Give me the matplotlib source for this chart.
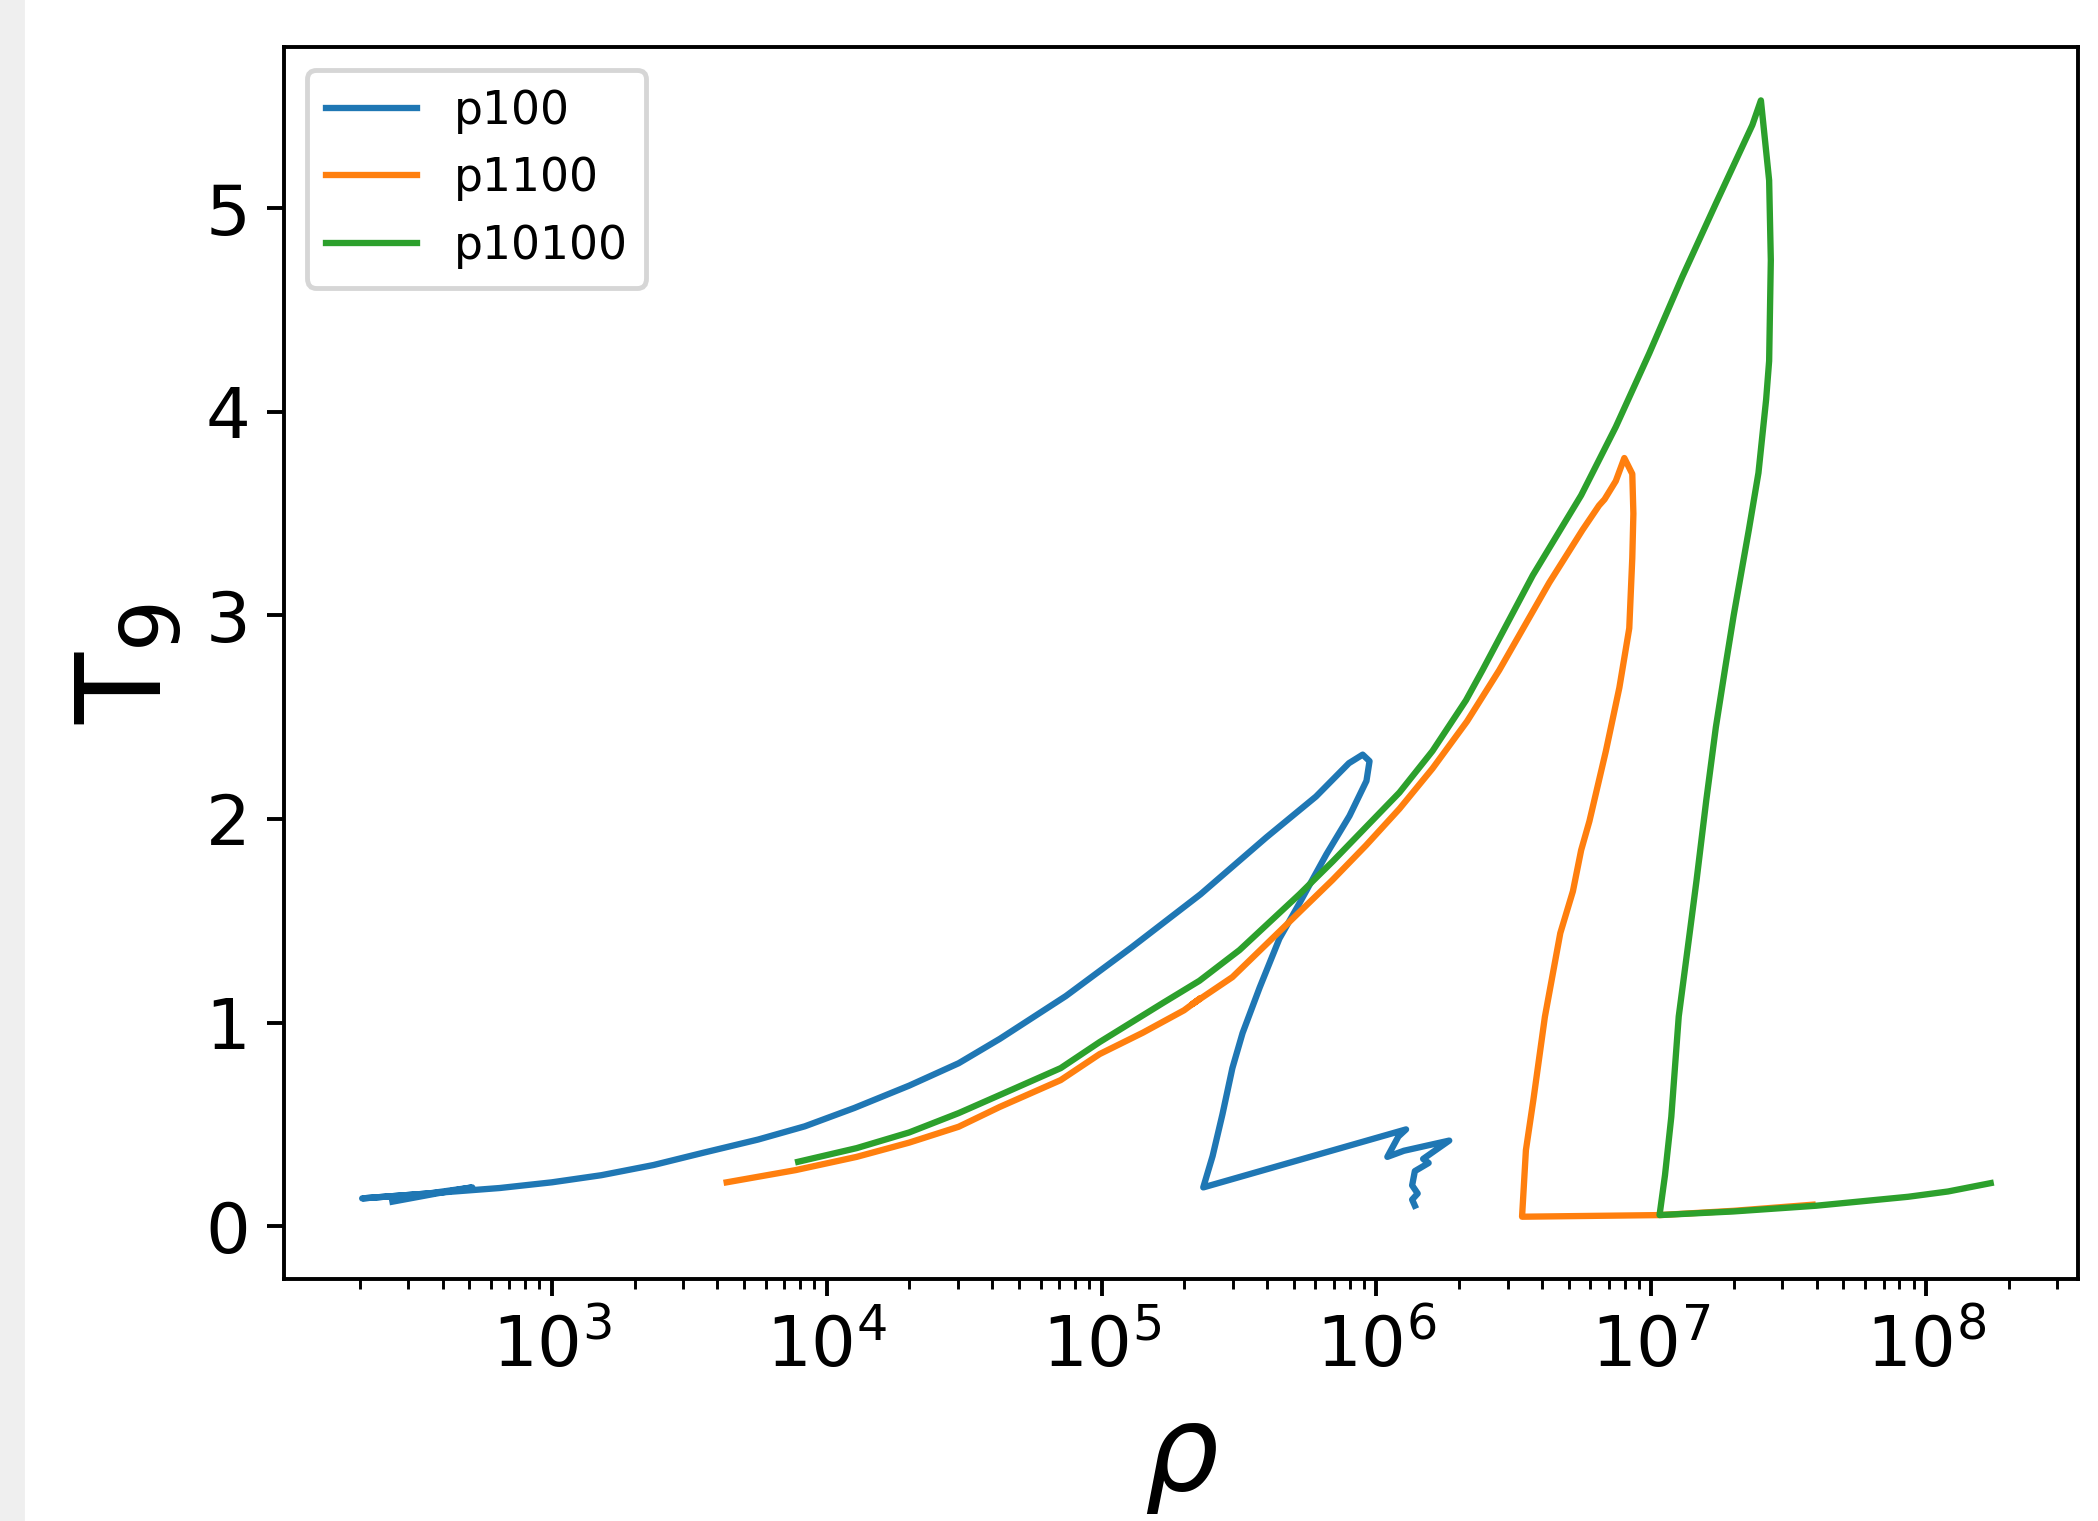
import matplotlib
matplotlib.use('Agg')
import matplotlib.pyplot as plt
from matplotlib.patches import Rectangle


# p100 trajectory (density, T9)
rho_p100 = [263, 398, 513, 355, 204, 316, 646, 1.0e3, 1.514e3, 2.344e3, 3.548e3,
            5.623e3, 8.318e3, 1.259e4, 1.995e4, 3.020e4, 4.266e4, 7.413e4, 1.288e5,
            2.291e5, 3.981e5, 6.026e5, 7.943e5, 8.913e5, 9.44e5, 9.20e5, 7.98e5,
            6.58e5, 5.248e5, 4.436e5, 3.758e5, 3.258e5, 2.992e5, 2.754e5, 2.535e5,
            2.344e5, 1.282e6, 1.202e6, 1.096e6, 1.259e6, 1.841e6, 1.479e6, 1.549e6,
            1.380e6, 1.349e6, 1.413e6, 1.349e6, 1.380e6]
t9_p100 = [0.12, 0.165, 0.19, 0.16, 0.136, 0.155, 0.187, 0.215, 0.25, 0.30, 0.36,
           0.425, 0.49, 0.58, 0.69, 0.80, 0.92, 1.13, 1.37,
           1.63, 1.91, 2.11, 2.274, 2.316, 2.284, 2.187, 2.015,
           1.827, 1.586, 1.412, 1.171, 0.948, 0.776, 0.55, 0.344,
           0.19, 0.475, 0.44, 0.34, 0.37, 0.42, 0.33, 0.31,
           0.27, 0.20, 0.16, 0.13, 0.10]

# p1100 trajectory
rho_p1100 = [4.325e3, 7.709e3, 1.285e4, 1.995e4, 3.020e4, 4.256e4, 7.096e4, 9.840e4,
             1.413e5, 1.995e5, 2.291e5, 2.138e5, 2.992e5, 4.571e5, 6.918e5, 9.162e5,
             1.213e6, 1.600e6, 2.138e6, 2.799e6, 4.256e6, 5.623e6, 6.457e6, 6.761e6,
             7.430e6, 7.980e6, 8.531e6, 8.610e6, 8.531e6, 8.318e6, 7.656e6, 6.839e6,
             5.957e6, 5.559e6, 5.188e6, 4.667e6, 4.102e6, 3.724e6, 3.499e6, 3.388e6,
             1.072e7, 1.995e7, 3.864e7]
t9_p1100 = [0.215, 0.275, 0.34, 0.41, 0.488, 0.585, 0.717, 0.845,
            0.95, 1.06, 1.12, 1.09, 1.223, 1.464, 1.70, 1.87,
            2.05, 2.248, 2.48, 2.731, 3.161, 3.42, 3.54, 3.57,
            3.66, 3.773, 3.695, 3.50, 3.282, 2.937, 2.645, 2.334,
            1.989, 1.847, 1.645, 1.439, 1.028, 0.619, 0.373, 0.046,
            0.054, 0.075, 0.105]

# p10100 trajectory
rho_p10100 = [7.87e3, 1.285e4, 1.995e4, 3.020e4, 4.365e4, 7.10e4, 9.84e4, 1.667e5,
              2.270e5, 3.177e5, 5.248e5, 6.918e5, 9.16e5, 1.213e6, 1.600e6, 2.118e6,
              2.432e6, 3.707e6, 5.559e6, 7.430e6, 9.840e6, 1.297e7, 1.718e7, 2.333e7,
              2.506e7, 2.685e7, 2.723e7, 2.685e7, 2.618e7, 2.455e7, 2.265e7, 1.995e7,
              1.862e7, 1.718e7, 1.585e7, 1.462e7, 1.380e7, 1.259e7, 1.183e7, 1.122e7,
              1.072e7, 1.995e7, 3.981e7, 8.610e7, 1.202e8, 1.718e8]
t9_p10100 = [0.316, 0.383, 0.46, 0.555, 0.65, 0.776, 0.904, 1.095,
             1.205, 1.356, 1.63, 1.79, 1.96, 2.13, 2.334, 2.583,
             2.731, 3.197, 3.59, 3.926, 4.288, 4.663, 5.023, 5.409,
             5.53, 5.137, 4.745, 4.25, 4.06, 3.70, 3.42, 3.00,
             2.75, 2.45, 2.09, 1.70, 1.44, 1.03, 0.537, 0.25,
             0.054, 0.072, 0.10, 0.144, 0.17, 0.211]

fig = plt.figure(figsize=(2098 / 350, 1521 / 350), dpi=350)
# grey strip at the left border of the screenshot
fig.patches.append(Rectangle((0, 0), 22 / 2098, 1, transform=fig.transFigure,
                             color='#efefef', zorder=-1))

ax = fig.add_axes([0.1356, 0.1591, 0.8549, 0.8097])
ax.plot(rho_p100, t9_p100, lw=1.3, label='p100')
ax.plot(rho_p1100, t9_p1100, lw=1.3, label='p1100')
ax.plot(rho_p10100, t9_p10100, lw=1.3, label='p10100')

ax.set_xscale('log')
ax.set_xlim(10 ** 2.027, 10 ** 8.553)
ax.set_ylim(-0.26, 5.79)
ax.tick_params(labelsize=14.5)

ax.set_xlabel(r'$\rho$', fontsize=24)
ax.set_ylabel(r'T$_9$', fontsize=24)
ax.legend(loc='upper left', fontsize=9.4)

fig.savefig('out.png', dpi=350)
